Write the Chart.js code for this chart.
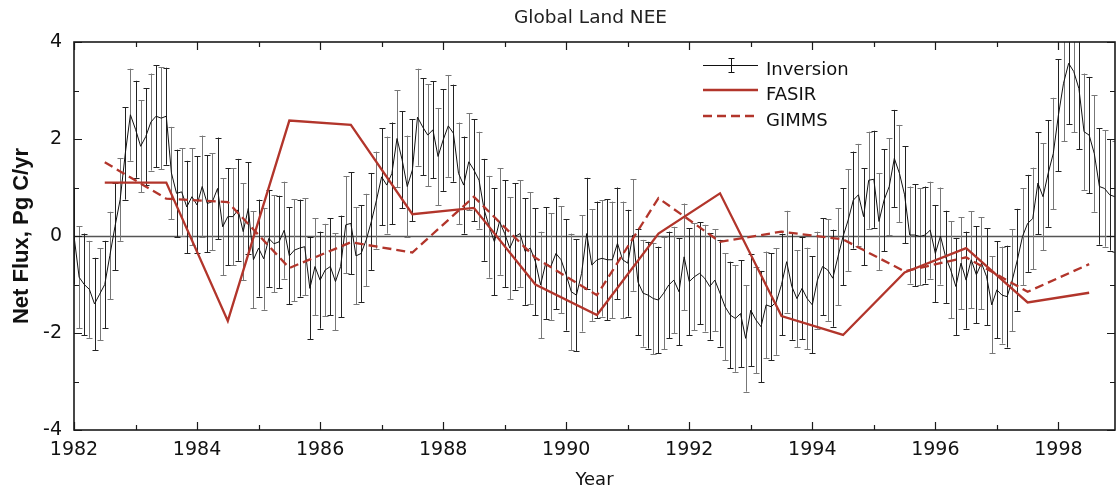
<!DOCTYPE html>
<html>
<head>
<meta charset="utf-8">
<title>Global Land NEE</title>
<script src="https://cdn.jsdelivr.net/npm/chart.js@4.4.0/dist/chart.umd.min.js"></script>
<style>
    html, body { margin: 0; padding: 0; background: #fff; }
    #wrap { width: 1116px; height: 489px; position: relative; }
</style>
</head>
<body>
<div id="wrap"><canvas id="nee"></canvas></div>
<script>
// monthly inversion flux (Pg C/yr), Jan 1982 .. Dec 1998, one row per year
const inversionFlux = [
    0.0, -0.85, -1.0, -1.1, -1.4, -1.2, -1.0, -0.4, 0.2, 0.75, 1.7, 2.5,
    2.2, 1.85, 2.05, 2.35, 2.47, 2.43, 2.47, 1.3, 0.88, 0.91, 0.6, 0.81,
    0.64, 1.02, 0.67, 0.71, 0.98, 0.19, 0.4, 0.4, 0.54, 0.09, 0.57, -0.49,
    -0.25, -0.47, -0.05, -0.16, -0.12, 0.12, -0.41, -0.29, -0.25, -0.22, -1.08, -0.63,
    -0.91, -0.7, -0.63, -0.94, -0.63, 0.23, 0.26, -0.41, -0.36, -0.08, 0.3, 0.74,
    1.22, 1.05, 1.29, 2.01, 1.57, 1.02, 1.36, 2.45, 2.25, 2.08, 2.19, 1.64,
    1.98, 2.27, 2.12, 1.29, 1.05, 1.53, 1.36, 1.15, 0.54, 0.19, -0.12, 0.3,
    0.05, -0.25, -0.01, 0.05, -0.32, -0.25, -0.53, -1.01, -0.56, -0.63, -0.36, -0.49,
    -0.8, -1.15, -1.22, -0.77, 0.05, -0.6, -0.49, -0.46, -0.49, -0.49, -0.15, -0.49,
    -0.56, 0.02, -0.95, -1.18, -1.22, -1.29, -1.32, -1.18, -1.01, -0.91, -1.15, -0.43,
    -0.94, -0.84, -0.77, -0.87, -1.04, -0.91, -1.18, -1.46, -1.63, -1.7, -1.6, -2.11,
    -1.53, -1.73, -1.87, -1.42, -1.46, -1.35, -1.0, -0.53, -1.04, -1.29, -1.08, -1.29,
    -1.42, -0.91, -0.63, -0.7, -0.87, -0.43, -0.01, 0.33, 0.74, 0.85, 0.4, 1.15,
    1.17, 0.3, 0.74, 1.02, 1.6, 1.29, 0.85, 0.02, 0.02, -0.01, 0.02, 0.12,
    -0.36, 0.0, -0.43, -0.7, -1.04, -0.56, -0.91, -0.49, -0.8, -0.56, -0.84, -1.42,
    -1.11, -1.22, -1.25, -0.91, -0.49, -0.01, 0.26, 0.36, 1.09, 0.81, 1.29, 1.7,
    2.49, 3.15, 3.56, 3.39, 3.04, 2.15, 2.08, 1.7, 1.02, 0.98, 0.85, 0.81
];
// half length of the error bars, same layout
const inversionError = [
    1.0, 1.05, 1.05, 1.0, 0.95, 0.95, 0.9, 0.9, 0.9, 0.85, 0.95, 0.95,
    1.0, 0.95, 1.0, 1.0, 1.05, 1.05, 1.0, 0.95, 0.9, 0.9, 0.95, 1.0,
    1.0, 1.05, 1.0, 1.0, 1.05, 1.0, 1.0, 1.0, 1.05, 1.0, 0.95, 1.0,
    1.0, 1.05, 1.0, 1.0, 0.95, 1.0, 1.0, 1.05, 1.0, 1.0, 1.05, 1.0,
    1.0, 0.95, 1.0, 1.0, 1.05, 1.0, 1.05, 1.0, 1.0, 0.95, 1.0, 1.0,
    1.0, 1.0, 1.05, 1.0, 1.0, 1.05, 1.05, 1.0, 1.0, 1.05, 1.0, 1.0,
    1.05, 1.05, 1.0, 1.05, 1.0, 1.0, 1.05, 1.0, 1.05, 1.05, 1.1, 1.1,
    1.1, 1.05, 1.1, 1.1, 1.1, 1.15, 1.1, 1.1, 1.15, 1.1, 1.15, 1.1,
    1.15, 1.2, 1.15, 1.2, 1.15, 1.15, 1.2, 1.2, 1.25, 1.2, 1.15, 1.2,
    1.1, 1.15, 1.1, 1.1, 1.1, 1.15, 1.1, 1.15, 1.1, 1.1, 1.1, 1.1,
    1.1, 1.1, 1.05, 1.1, 1.1, 1.05, 1.1, 1.1, 1.1, 1.1, 1.1, 1.1,
    1.15, 1.1, 1.15, 1.1, 1.1, 1.1, 1.05, 1.05, 1.1, 1.0, 1.05, 1.05,
    1.0, 1.0, 1.0, 1.05, 1.0, 1.0, 1.0, 1.05, 1.0, 1.05, 1.0, 1.0,
    1.0, 1.0, 1.05, 1.0, 1.0, 1.0, 1.0, 1.0, 1.05, 1.0, 1.0, 1.0,
    1.0, 1.0, 0.95, 1.0, 1.0, 0.95, 1.0, 1.0, 1.0, 0.95, 1.0, 1.0,
    1.0, 1.0, 1.05, 1.05, 1.05, 1.0, 1.0, 1.05, 1.05, 1.1, 1.1, 1.15,
    1.15, 1.2, 1.25, 1.25, 1.25, 1.2, 1.2, 1.2, 1.2, 1.2, 1.15, 1.15
];
const modelYears = [1982.5, 1983.5, 1984.5, 1985.5, 1986.5, 1987.5, 1988.5, 1989.5, 1990.5,
    1991.5, 1992.5, 1993.5, 1994.5, 1995.5, 1996.5, 1997.5, 1998.5];
const fasirFlux = [1.1, 1.1, -1.75, 2.38, 2.29, 0.45, 0.58, -1.0, -1.63, 0.05, 0.88, -1.65, -2.04, -0.75, -0.25, -1.37, -1.17];
const gimmsFlux = [1.52, 0.77, 0.7, -0.66, -0.13, -0.34, 0.81, -0.45, -1.22, 0.78, -0.12, 0.09, -0.07, -0.73, -0.44, -1.15, -0.58];
const xTickYears = [1982, 1984, 1986, 1988, 1990, 1992, 1994, 1996, 1998];
const yTickValues = [-4, -2, 0, 2, 4];

const RED = '#b2352b';
const months = inversionFlux.map((v, i) => 1982 + i / 12);

Chart.defaults.font.family = 'DejaVu Sans';
Chart.defaults.color = '#111';

// zero line + error bars, under the lines
const errorBars = {
    id: 'errorBars',
    beforeDatasetsDraw(chart) {
        const { ctx, chartArea: a, scales: { x, y } } = chart;
        ctx.save();
        ctx.beginPath();
        ctx.rect(a.left, a.top, a.right - a.left, a.bottom - a.top);
        ctx.clip();
        const y0 = Math.round(y.getPixelForValue(0)) + 0.5;
        ctx.strokeStyle = '#555';
        ctx.lineWidth = 1.5;
        ctx.beginPath();
        ctx.moveTo(a.left, y0);
        ctx.lineTo(a.right, y0);
        ctx.stroke();
        ctx.lineWidth = 1;
        inversionFlux.forEach((v, i) => {
            const px = Math.round(x.getPixelForValue(months[i])) + 0.5;
            const top = y.getPixelForValue(v + inversionError[i]);
            const bot = y.getPixelForValue(v - inversionError[i]);
            ctx.strokeStyle = i % 2 ? '#777' : '#222';
            ctx.beginPath();
            ctx.moveTo(px, top); ctx.lineTo(px, bot);
            ctx.moveTo(px - 3, Math.round(top) + 0.5); ctx.lineTo(px + 3, Math.round(top) + 0.5);
            ctx.moveTo(px - 3, Math.round(bot) + 0.5); ctx.lineTo(px + 3, Math.round(bot) + 0.5);
            ctx.stroke();
        });
        ctx.restore();
    }
};

// box, inward ticks, title and legend
const frame = {
    id: 'frame',
    afterDraw(chart) {
        const { ctx, chartArea: a, scales: { x, y } } = chart;
        ctx.save();
        ctx.strokeStyle = '#1a1a1a';
        ctx.lineWidth = 1.2;
        ctx.beginPath();
        for (let yr = 1982; yr <= 1998; yr++) {
            const px = Math.round(x.getPixelForValue(yr)) + 0.5;
            const len = xTickYears.includes(yr) ? 8 : 5;
            ctx.moveTo(px, a.bottom); ctx.lineTo(px, a.bottom - len);
            ctx.moveTo(px, a.top); ctx.lineTo(px, a.top + len);
        }
        for (let v = -4; v <= 4; v++) {
            const py = Math.round(y.getPixelForValue(v)) + 0.5;
            const len = yTickValues.includes(v) ? 8 : 5;
            ctx.moveTo(a.left, py); ctx.lineTo(a.left + len, py);
            ctx.moveTo(a.right, py); ctx.lineTo(a.right - len, py);
        }
        ctx.stroke();
        ctx.lineWidth = 1.6;
        ctx.strokeRect(a.left, a.top, a.right - a.left, a.bottom - a.top);

        ctx.fillStyle = '#222';
        ctx.font = '18.5px "DejaVu Sans"';
        ctx.textAlign = 'center';
        ctx.textBaseline = 'middle';
        ctx.fillText('Global Land NEE', (a.left + a.right) / 2 - 4, 18);

        // legend
        const lx0 = a.left + 629, lx1 = a.left + 684, tx = a.left + 692;
        const rows = [a.top + 23, a.top + 48, a.top + 74];
        ctx.textAlign = 'left';
        ctx.textBaseline = 'alphabetic';
        ctx.font = '18px "DejaVu Sans"';
        ctx.fillStyle = '#111';

        ctx.strokeStyle = '#111';
        ctx.lineWidth = 1;
        ctx.beginPath();
        ctx.moveTo(lx0, rows[0] + 0.5); ctx.lineTo(lx1, rows[0] + 0.5);
        const ex = Math.round((lx0 + lx1) / 2) + 0.5;
        ctx.moveTo(ex, rows[0] - 7); ctx.lineTo(ex, rows[0] + 7);
        ctx.moveTo(ex - 3, rows[0] - 6.5); ctx.lineTo(ex + 3, rows[0] - 6.5);
        ctx.moveTo(ex - 3, rows[0] + 7.5); ctx.lineTo(ex + 3, rows[0] + 7.5);
        ctx.stroke();
        ctx.fillText('Inversion', tx, rows[0] + 10);

        ctx.strokeStyle = RED;
        ctx.lineWidth = 2.3;
        ctx.beginPath();
        ctx.moveTo(lx0, rows[1]); ctx.lineTo(lx1, rows[1]);
        ctx.stroke();
        ctx.fillText('FASIR', tx, rows[1] + 10);

        ctx.setLineDash([9, 5]);
        ctx.beginPath();
        ctx.moveTo(lx0, rows[2]); ctx.lineTo(lx1, rows[2]);
        ctx.stroke();
        ctx.setLineDash([]);
        ctx.fillText('GIMMS', tx, rows[2] + 10);
        ctx.restore();
    }
};

new Chart(document.getElementById('nee'), {
    type: 'line',
    data: {
        datasets: [{
            label: 'Inversion',
            data: inversionFlux.map((v, i) => ({ x: months[i], y: v })),
            borderColor: '#111',
            borderWidth: 1,
            pointRadius: 0,
            order: 3
        }, {
            label: 'FASIR',
            data: modelYears.map((t, i) => ({ x: t, y: fasirFlux[i] })),
            borderColor: RED,
            borderWidth: 2.3,
            pointRadius: 0,
            order: 1
        }, {
            label: 'GIMMS',
            data: modelYears.map((t, i) => ({ x: t, y: gimmsFlux[i] })),
            borderColor: RED,
            borderWidth: 2.3,
            borderDash: [9, 5],
            pointRadius: 0,
            order: 2
        }]
    },
    options: {
        responsive: true,
        maintainAspectRatio: false,
        devicePixelRatio: 1,
        animation: false,
        layout: { padding: { top: 42, right: 1, left: 0, bottom: 0 } },
        scales: {
            x: {
                type: 'linear',
                min: 1982,
                max: 1998.92,
                afterFit: (scale) => { scale.height = 59; },
                afterBuildTicks: (scale) => { scale.ticks = xTickYears.map(v => ({ value: v })); },
                grid: { display: false, drawTicks: false },
                border: { display: false },
                ticks: { padding: 9, maxRotation: 0, autoSkip: false, font: { size: 19 }, color: '#111', callback: (v) => String(v) },
                title: { display: true, text: 'Year', font: { size: 18, lineHeight: 1 }, padding: { top: 0, bottom: 0 }, color: '#111' }
            },
            y: {
                min: -4,
                max: 4,
                afterFit: (scale) => { scale.width = 74; },
                afterBuildTicks: (scale) => { scale.ticks = yTickValues.map(v => ({ value: v })); },
                grid: { display: false, drawTicks: false },
                border: { display: false },
                ticks: { padding: 12, font: { size: 19 }, color: '#111' },
                title: {
                    display: true,
                    text: 'Net Flux, Pg C/yr',
                    font: { family: 'Liberation Sans', size: 22, weight: 'bold', lineHeight: 1.2 },
                    padding: { top: 9, bottom: 0 },
                    color: '#111'
                }
            }
        },
        plugins: {
            legend: { display: false },
            tooltip: { enabled: false }
        }
    },
    plugins: [errorBars, frame]
});
</script>
</body>
</html>
